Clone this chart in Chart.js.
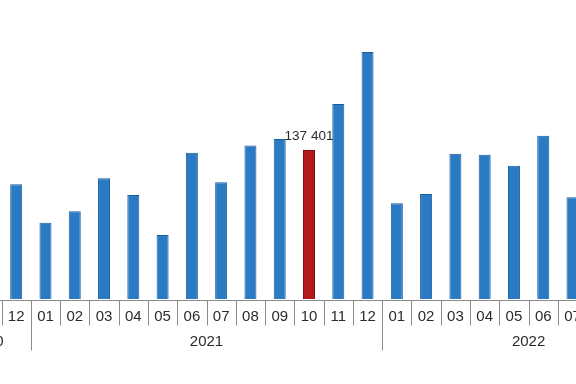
<!DOCTYPE html>
<html>
<head>
<meta charset="utf-8">
<script src="https://cdn.jsdelivr.net/npm/chart.js@4"></script>
<style>
  html, body { margin: 0; padding: 0; background: #fff; overflow: hidden; }
  #wrap { position: absolute; left: -57px; top: 0; width: 732px; height: 384px; }
</style>
</head>
<body>
<div id="wrap"><canvas id="chartMonthly"></canvas></div>
<script>
// months shown on the axis (the first two and last three fall outside the picture)
const months = ['10', '11', '12',
  '01', '02', '03', '04', '05', '06', '07', '08', '09', '10', '11', '12',
  '01', '02', '03', '04', '05', '06', '07', '08', '09', '10'];
const years = ['2020', '2020', '2020',
  '2021', '2021', '2021', '2021', '2021', '2021', '2021', '2021', '2021', '2021', '2021', '2021',
  '2022', '2022', '2022', '2022', '2022', '2022', '2022', '2022', '2022', '2022'];
const values = [null, null, 105800,
  70400, 80900, 111300, 95900, 59000, 134900, 107600, 141700, 147600, 137401, 179800, 227800,
  88300, 96800, 134000, 133100, 122900, 150600, 93800, null, null, null];
const highlightIndex = 12; // 2021-10

const blue = '#2a7bc4';
const blueEdge = '#1c5d9c';
const red = '#b3181b';
const redEdge = '#7e1013';

var fills = values.map((v, i) => i === highlightIndex ? red : blue);
var edges = values.map((v, i) => i === highlightIndex ? redEdge : blueEdge);

const fmt = function(n) {
  return String(n).replace(/\B(?=(\d{3})+(?!\d))/g, ' ');
};

// two level axis: months in boxes, years underneath
const axisPlugin = {
  id: 'twoLevelAxis',
  afterDraw(chart) {
    const ctx = chart.ctx;
    const x = chart.scales.x;
    const area = chart.chartArea;
    const base = area.bottom + 1.5;
    const n = months.length;
    const half = (x.getPixelForValue(1) - x.getPixelForValue(0)) / 2;

    ctx.save();
    ctx.strokeStyle = '#8a8a8a';
    ctx.lineWidth = 1;
    ctx.beginPath();
    ctx.moveTo(area.left, base);
    ctx.lineTo(area.right, base);
    ctx.stroke();

    for (var i = 0; i <= n; ++i) {
      var px = Math.round((i < n ? x.getPixelForValue(i) : x.getPixelForValue(n - 1) + 2 * half) - half) + 0.5;
      var yearEdge = i === 0 || i === n || years[i] !== years[i - 1];
      ctx.beginPath();
      ctx.moveTo(px, base);
      ctx.lineTo(px, yearEdge ? base + 50 : base + 25);
      ctx.stroke();
    }

    ctx.fillStyle = '#2b2b2b';
    ctx.textAlign = 'center';
    ctx.textBaseline = 'middle';
    ctx.font = '15px "Liberation Sans", Arial, sans-serif';
    for (var i = 0; i < n; ++i) {
      ctx.fillText(months[i], x.getPixelForValue(i), base + 16);
    }

    var start = 0;
    for (var i = 1; i <= n; ++i) {
      if (i === n || years[i] !== years[start]) {
        var cx = (x.getPixelForValue(start) + x.getPixelForValue(i - 1)) / 2;
        ctx.fillText(years[start], cx, base + 41);
        start = i;
      }
    }

    // value above the highlighted bar
    var bar = chart.getDatasetMeta(0).data[highlightIndex];
    ctx.font = '13.5px "Liberation Sans", Arial, sans-serif';
    ctx.textBaseline = 'alphabetic';
    ctx.fillText(fmt(values[highlightIndex]), bar.x, bar.y - 10);
    ctx.restore();
  }
};

var myChart = new Chart(document.getElementById('chartMonthly'), {
  type: 'bar',
  data: {
    labels: months.map((m, i) => years[i] + '-' + m),
    datasets: [{
      data: values,
      backgroundColor: fills,
      borderColor: edges,
      borderWidth: 1,
      barPercentage: 0.41,
      categoryPercentage: 1
    }]
  },
  options: {
    responsive: true,
    maintainAspectRatio: false,
    animation: false,
    layout: { padding: { top: 28, bottom: 85, left: 0, right: 0 } },
    plugins: { legend: { display: false }, tooltip: { enabled: false } },
    scales: {
      x: { display: false },
      y: { display: false, min: 0, max: 250000 }
    }
  },
  plugins: [axisPlugin]
});
</script>
</body>
</html>
